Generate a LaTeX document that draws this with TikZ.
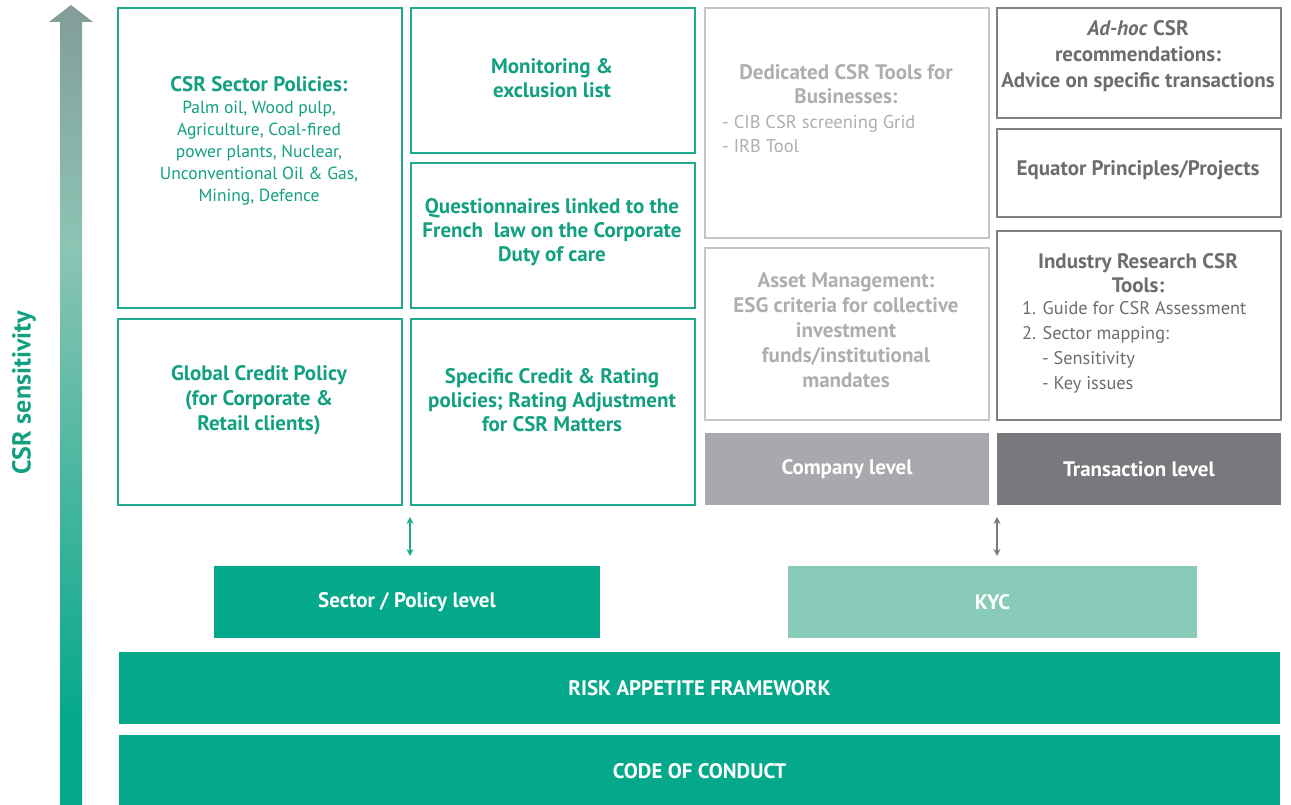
\documentclass[tikz,border=0pt]{standalone}
\usepackage{fontspec}
\setmainfont{PT Sans}
\usetikzlibrary{arrows.meta}
\definecolor{gfill}{RGB}{4,168,138}
\definecolor{gline}{RGB}{30,170,140}
\definecolor{gtxt}{RGB}{18,160,128}
\definecolor{kyc}{RGB}{137,203,185}
\definecolor{comp}{RGB}{167,169,172}
\definecolor{trans}{RGB}{120,121,125}
\definecolor{ltxt}{RGB}{172,174,177}
\definecolor{lline}{RGB}{196,197,199}
\definecolor{dtxt}{RGB}{108,109,112}
\definecolor{dline}{RGB}{128,129,132}
\definecolor{agray}{RGB}{122,123,127}
\definecolor{amid}{RGB}{140,196,180}
\pgfdeclareverticalshading{csrshade}{100bp}{color(0bp)=(gfill); color(30bp)=(gfill); color(60bp)=(amid); color(88bp)=(agray); color(100bp)=(agray)}
\newcommand\ttlf{\fontsize{21}{24}\selectfont\bfseries}
\newcommand\bdyf{\fontsize{17.5}{22}\selectfont}
\newcommand\lstf{\fontsize{18.3}{25}\selectfont}
\begin{document}
\begin{tikzpicture}[x=1pt,y=-1pt,
  box/.style={line width=2pt, inner sep=0pt, anchor=north west},
  gbox/.style={box, draw=gline},
  lbox/.style={box, draw=lline},
  dbox/.style={box, draw=dline},
  fbox/.style={box, text=white, font=\ttlf},
  gt/.style={text=gtxt, align=center, inner sep=0pt, font=\ttlf},
  lt/.style={text=ltxt, align=center, inner sep=0pt, font=\ttlf},
  dt/.style={text=dtxt, align=center, inner sep=0pt, font=\ttlf},
  wt/.style={text=white, font=\ttlf, inner sep=0pt},
  darr/.style={{Stealth[length=7pt,width=7pt]}-{Stealth[length=7pt,width=7pt]}, line width=2pt}
]
\useasboundingbox (0,0) rectangle (1291,805);

% CSR sensitivity arrow
\shade[shading=csrshade]
  (60,805) -- (60,22) -- (49,22) -- (71,5) -- (93,22) -- (82,22) -- (82,805) -- cycle;
\node[rotate=90, text=gtxt, font=\fontsize{26}{30}\selectfont\bfseries] (sens) at (24,393) {CSR sensitivity};

% column 1 & 2 (green)
\node[gbox, minimum width=284, minimum height=300] (csr) at (117,7) {};
\node[gbox, minimum width=284, minimum height=145] (mon) at (410,7) {};
\node[gbox, minimum width=284, minimum height=145] (que) at (410,162) {};
\node[gbox, minimum width=284, minimum height=186] (gcp) at (117,318) {};
\node[gbox, minimum width=284, minimum height=186] (scr) at (410,318) {};

\node[gt] (csrT) at (259,84) {CSR Sector Policies:};
\node[gt, font=\bdyf] (csrB) at (259,153) {Palm oil, Wood pulp,\\Agriculture, Coal-fired\\power plants, Nuclear,\\Unconventional Oil \& Gas,\\Mining, Defence};
\node[gt] (monT) at (552,78) {Monitoring \&\\exclusion list};
\node[gt] (queT) at (552,232) {Questionnaires linked to the\\French\ \ law on the Corporate\\Duty of care};
\node[gt, font=\fontsize{21}{25}\selectfont\bfseries] (gcpT) at (259,400) {Global Credit Policy\\(for Corporate \&\\Retail clients)};
\node[gt] (scrT) at (552,400) {Specific Credit \& Rating\\policies; Rating Adjustment\\for CSR Matters};

% column 3 (light gray)
\node[lbox, minimum width=284, minimum height=230] (ded) at (704,7) {};
\node[lbox, minimum width=284, minimum height=172] (asm) at (704,247) {};
\node[fbox, fill=comp, minimum width=284, minimum height=72] (cmp) at (704,432) {};
\node[wt] (cmpT) at (cmp.center) {Company level};

\node[lt] (dedT) at (846,84) {Dedicated CSR Tools for\\Businesses:};
\node[lt, font=\fontsize{18.5}{24}\selectfont, align=left, anchor=west] (dedB) at (722,134) {- CIB CSR screening Grid\\- IRB Tool};
\node[lt, font=\fontsize{21}{25}\selectfont\bfseries] (asmT) at (846,330) {Asset Management:\\ESG criteria for collective\\investment\\funds/institutional\\mandates};

% column 4 (dark gray)
\node[dbox, minimum width=284, minimum height=110] (adh) at (996,7) {};
\node[dbox, minimum width=284, minimum height=88] (equ) at (996,128) {};
\node[dbox, minimum width=284, minimum height=189] (ind) at (996,230) {};
\node[fbox, fill=trans, minimum width=284, minimum height=72] (trn) at (996,432) {};
\node[wt] (trnT) at (trn.center) {Transaction level};

\node[dt, font=\fontsize{21}{26}\selectfont\bfseries] (adhT) at (1138,56) {\textit{Ad-hoc} CSR\\recommendations:\\Advice on specific transactions};
\node[dt] (equT) at (1138,170) {Equator Principles/Projects};
\node[dt] (indT) at (1138,273) {Industry Research CSR\\Tools:};
\node[dt, font=\lstf, align=left, anchor=west] (indB) at (1022,347) {1. Guide for CSR Assessment\\2. Sector mapping:\\\hspace*{20pt}- Sensitivity\\\hspace*{20pt}- Key issues};

% double arrows
\coordinate (a1t) at (410,517);
\coordinate (a1b) at (410,556);
\coordinate (a2t) at (997,517);
\coordinate (a2b) at (997,556);
\draw[darr, draw=gline, fill=gline] (a1t) -- (a1b);
\draw[darr, draw=agray, fill=agray] (a2t) -- (a2b);

% bottom bars
\node[fbox, fill=gfill, minimum width=386, minimum height=72] (sec) at (213,565) {};
\node[wt] (secT) at (sec.center) {Sector / Policy level};
\node[fbox, fill=kyc, minimum width=409, minimum height=72] (kycB) at (787,565) {};
\node[wt] (kycT) at (kycB.center) {KYC};
\node[fbox, fill=gfill, minimum width=1161, minimum height=72] (raf) at (118,651) {};
\node[wt] (rafT) at (raf.center) {RISK APPETITE FRAMEWORK};
\node[fbox, fill=gfill, minimum width=1161, minimum height=72] (coc) at (118,734) {};
\node[wt] (cocT) at (coc.center) {CODE OF CONDUCT};
\end{tikzpicture}
\end{document}
